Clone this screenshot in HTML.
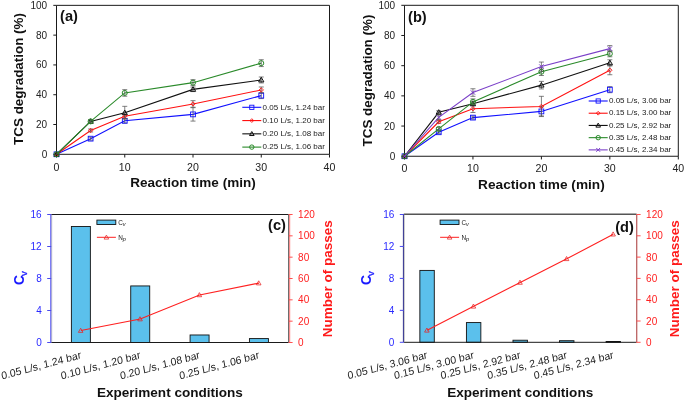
<!DOCTYPE html><html><head><meta charset="utf-8"><style>html,body{margin:0;padding:0;background:#fff;overflow:hidden}svg{display:block;will-change:transform}text{font-family:"Liberation Sans", sans-serif}</style></head><body>
<svg width="685" height="401" viewBox="0 0 685 401">
<rect width="685" height="401" fill="#fff"/>
<path d="M56.5 5.35H329.5V154.3H56.5Z" fill="none" stroke="#1a1a1a" stroke-width="1"/>
<line x1="53.3" y1="154.3" x2="56.5" y2="154.3" stroke="#1a1a1a" stroke-width="1"/>
<text x="47.2" y="157.85" text-anchor="end" font-size="10" fill="#222">0</text>
<line x1="53.3" y1="124.51" x2="56.5" y2="124.51" stroke="#1a1a1a" stroke-width="1"/>
<text x="47.2" y="128.06" text-anchor="end" font-size="10" fill="#222">20</text>
<line x1="53.3" y1="94.72" x2="56.5" y2="94.72" stroke="#1a1a1a" stroke-width="1"/>
<text x="47.2" y="98.27" text-anchor="end" font-size="10" fill="#222">40</text>
<line x1="53.3" y1="64.93" x2="56.5" y2="64.93" stroke="#1a1a1a" stroke-width="1"/>
<text x="47.2" y="68.48" text-anchor="end" font-size="10" fill="#222">60</text>
<line x1="53.3" y1="35.14" x2="56.5" y2="35.14" stroke="#1a1a1a" stroke-width="1"/>
<text x="47.2" y="38.69" text-anchor="end" font-size="10" fill="#222">80</text>
<line x1="53.3" y1="5.35" x2="56.5" y2="5.35" stroke="#1a1a1a" stroke-width="1"/>
<text x="47.2" y="8.9" text-anchor="end" font-size="10" fill="#222">100</text>
<line x1="56.5" y1="154.3" x2="56.5" y2="157.5" stroke="#1a1a1a" stroke-width="1"/>
<text x="56.5" y="170.5" text-anchor="middle" font-size="10.6" fill="#222">0</text>
<line x1="124.75" y1="154.3" x2="124.75" y2="157.5" stroke="#1a1a1a" stroke-width="1"/>
<text x="124.75" y="170.5" text-anchor="middle" font-size="10.6" fill="#222">10</text>
<line x1="193" y1="154.3" x2="193" y2="157.5" stroke="#1a1a1a" stroke-width="1"/>
<text x="193" y="170.5" text-anchor="middle" font-size="10.6" fill="#222">20</text>
<line x1="261.25" y1="154.3" x2="261.25" y2="157.5" stroke="#1a1a1a" stroke-width="1"/>
<text x="261.25" y="170.5" text-anchor="middle" font-size="10.6" fill="#222">30</text>
<line x1="329.5" y1="154.3" x2="329.5" y2="157.5" stroke="#1a1a1a" stroke-width="1"/>
<text x="329.5" y="170.5" text-anchor="middle" font-size="10.6" fill="#222">40</text>
<text x="193" y="187.2" text-anchor="middle" font-size="13.5" font-weight="bold" fill="#111">Reaction time (min)</text>
<text transform="translate(22.8 78.98) rotate(-90)" text-anchor="middle" font-size="13.42" font-weight="bold" fill="#111">TCS degradation (%)</text>
<text x="60.1" y="21.35" font-size="14.6" font-weight="bold" fill="#111">(a)</text>
<polyline points="56.5,154.3 90.62,138.66 124.75,120.79 193,114.38 261.25,95.61" fill="none" stroke="#1010ff" stroke-width="1.1"/>
<path d="M90.62 137.17V140.15M88.12 137.17H93.12M88.12 140.15H93.12" stroke="#555" stroke-width="0.75" fill="none"/>
<path d="M124.75 118.55V123.02M122.25 118.55H127.25M122.25 123.02H127.25" stroke="#555" stroke-width="0.75" fill="none"/>
<path d="M193 107.68V121.08M190.5 107.68H195.5M190.5 121.08H195.5" stroke="#555" stroke-width="0.75" fill="none"/>
<path d="M261.25 92.63V98.59M258.75 92.63H263.75M258.75 98.59H263.75" stroke="#555" stroke-width="0.75" fill="none"/>
<rect x="54.1" y="151.9" width="4.8" height="4.8" fill="none" stroke="#1010ff" stroke-width="0.9"/>
<rect x="88.22" y="136.26" width="4.8" height="4.8" fill="none" stroke="#1010ff" stroke-width="0.9"/>
<rect x="122.35" y="118.39" width="4.8" height="4.8" fill="none" stroke="#1010ff" stroke-width="0.9"/>
<rect x="190.6" y="111.98" width="4.8" height="4.8" fill="none" stroke="#1010ff" stroke-width="0.9"/>
<rect x="258.85" y="93.21" width="4.8" height="4.8" fill="none" stroke="#1010ff" stroke-width="0.9"/>
<polyline points="56.5,154.3 90.62,130.47 124.75,116.17 193,103.95 261.25,89.95" fill="none" stroke="#ff1010" stroke-width="1.1"/>
<path d="M90.62 128.98V131.96M88.12 128.98H93.12M88.12 131.96H93.12" stroke="#555" stroke-width="0.75" fill="none"/>
<path d="M124.75 113.93V118.4M122.25 113.93H127.25M122.25 118.4H127.25" stroke="#555" stroke-width="0.75" fill="none"/>
<path d="M193 100.68V107.23M190.5 100.68H195.5M190.5 107.23H195.5" stroke="#555" stroke-width="0.75" fill="none"/>
<path d="M261.25 86.97V92.93M258.75 86.97H263.75M258.75 92.93H263.75" stroke="#555" stroke-width="0.75" fill="none"/>
<path d="M56.5 152.14L58.66 154.3L56.5 156.46L54.34 154.3Z" fill="none" stroke="#ff1010" stroke-width="0.9"/>
<path d="M90.62 128.31L92.78 130.47L90.62 132.63L88.47 130.47Z" fill="none" stroke="#ff1010" stroke-width="0.9"/>
<path d="M124.75 114.01L126.91 116.17L124.75 118.33L122.59 116.17Z" fill="none" stroke="#ff1010" stroke-width="0.9"/>
<path d="M193 101.79L195.16 103.95L193 106.11L190.84 103.95Z" fill="none" stroke="#ff1010" stroke-width="0.9"/>
<path d="M261.25 87.79L263.41 89.95L261.25 92.11L259.09 89.95Z" fill="none" stroke="#ff1010" stroke-width="0.9"/>
<polyline points="56.5,154.3 90.62,121.38 124.75,112.74 193,89.36 261.25,79.97" fill="none" stroke="#111" stroke-width="1.1"/>
<path d="M90.62 119.89V122.87M88.12 119.89H93.12M88.12 122.87H93.12" stroke="#555" stroke-width="0.75" fill="none"/>
<path d="M124.75 106.34V119.15M122.25 106.34H127.25M122.25 119.15H127.25" stroke="#555" stroke-width="0.75" fill="none"/>
<path d="M193 87.12V91.59M190.5 87.12H195.5M190.5 91.59H195.5" stroke="#555" stroke-width="0.75" fill="none"/>
<path d="M261.25 76.99V82.95M258.75 76.99H263.75M258.75 82.95H263.75" stroke="#555" stroke-width="0.75" fill="none"/>
<path d="M56.5 151.66L59.14 156.22L53.86 156.22Z" fill="none" stroke="#111" stroke-width="1"/>
<path d="M90.62 118.74L93.27 123.3L87.98 123.3Z" fill="none" stroke="#111" stroke-width="1"/>
<path d="M124.75 110.1L127.39 114.66L122.11 114.66Z" fill="none" stroke="#111" stroke-width="1"/>
<path d="M193 86.72L195.64 91.28L190.36 91.28Z" fill="none" stroke="#111" stroke-width="1"/>
<path d="M261.25 77.33L263.89 81.89L258.61 81.89Z" fill="none" stroke="#111" stroke-width="1"/>
<polyline points="56.5,154.3 90.62,121.38 124.75,92.93 193,82.66 261.25,63.14" fill="none" stroke="#2a8a2a" stroke-width="1.1"/>
<path d="M90.62 119.89V122.87M88.12 119.89H93.12M88.12 122.87H93.12" stroke="#555" stroke-width="0.75" fill="none"/>
<path d="M124.75 89.66V96.21M122.25 89.66H127.25M122.25 96.21H127.25" stroke="#555" stroke-width="0.75" fill="none"/>
<path d="M193 79.68V85.63M190.5 79.68H195.5M190.5 85.63H195.5" stroke="#555" stroke-width="0.75" fill="none"/>
<path d="M261.25 59.72V66.57M258.75 59.72H263.75M258.75 66.57H263.75" stroke="#555" stroke-width="0.75" fill="none"/>
<circle cx="56.5" cy="154.3" r="2.52" fill="none" stroke="#2a8a2a" stroke-width="1"/>
<circle cx="90.62" cy="121.38" r="2.52" fill="none" stroke="#2a8a2a" stroke-width="1"/>
<circle cx="124.75" cy="92.93" r="2.52" fill="none" stroke="#2a8a2a" stroke-width="1"/>
<circle cx="193" cy="82.66" r="2.52" fill="none" stroke="#2a8a2a" stroke-width="1"/>
<circle cx="261.25" cy="63.14" r="2.52" fill="none" stroke="#2a8a2a" stroke-width="1"/>
<line x1="242.3" y1="107.3" x2="261.3" y2="107.3" stroke="#1010ff" stroke-width="1.1"/>
<rect x="249.7" y="105.2" width="4.2" height="4.2" fill="none" stroke="#1010ff" stroke-width="0.9"/>
<text x="262.6" y="109.55" font-size="8" fill="#222">0.05 L/s, 1.24 bar</text>
<line x1="242.3" y1="120.57" x2="261.3" y2="120.57" stroke="#ff1010" stroke-width="1.1"/>
<path d="M251.8 118.68L253.69 120.57L251.8 122.46L249.91 120.57Z" fill="none" stroke="#ff1010" stroke-width="0.9"/>
<text x="262.6" y="122.82" font-size="8" fill="#222">0.10 L/s, 1.20 bar</text>
<line x1="242.3" y1="133.84" x2="261.3" y2="133.84" stroke="#111" stroke-width="1.1"/>
<path d="M251.8 131.53L254.11 135.52L249.49 135.52Z" fill="none" stroke="#111" stroke-width="1"/>
<text x="262.6" y="136.09" font-size="8" fill="#222">0.20 L/s, 1.08 bar</text>
<line x1="242.3" y1="147.11" x2="261.3" y2="147.11" stroke="#2a8a2a" stroke-width="1.1"/>
<circle cx="251.8" cy="147.11" r="2.21" fill="none" stroke="#2a8a2a" stroke-width="1"/>
<text x="262.6" y="149.36" font-size="8" fill="#222">0.25 L/s, 1.06 bar</text>
<path d="M404.5 5.3H678.3V156.25H404.5Z" fill="none" stroke="#1a1a1a" stroke-width="1"/>
<line x1="401.3" y1="156.25" x2="404.5" y2="156.25" stroke="#1a1a1a" stroke-width="1"/>
<text x="395.2" y="159.8" text-anchor="end" font-size="10" fill="#222">0</text>
<line x1="401.3" y1="126.06" x2="404.5" y2="126.06" stroke="#1a1a1a" stroke-width="1"/>
<text x="395.2" y="129.61" text-anchor="end" font-size="10" fill="#222">20</text>
<line x1="401.3" y1="95.87" x2="404.5" y2="95.87" stroke="#1a1a1a" stroke-width="1"/>
<text x="395.2" y="99.42" text-anchor="end" font-size="10" fill="#222">40</text>
<line x1="401.3" y1="65.68" x2="404.5" y2="65.68" stroke="#1a1a1a" stroke-width="1"/>
<text x="395.2" y="69.23" text-anchor="end" font-size="10" fill="#222">60</text>
<line x1="401.3" y1="35.49" x2="404.5" y2="35.49" stroke="#1a1a1a" stroke-width="1"/>
<text x="395.2" y="39.04" text-anchor="end" font-size="10" fill="#222">80</text>
<line x1="401.3" y1="5.3" x2="404.5" y2="5.3" stroke="#1a1a1a" stroke-width="1"/>
<text x="395.2" y="8.85" text-anchor="end" font-size="10" fill="#222">100</text>
<line x1="404.5" y1="156.25" x2="404.5" y2="159.45" stroke="#1a1a1a" stroke-width="1"/>
<text x="404.5" y="172.45" text-anchor="middle" font-size="10.6" fill="#222">0</text>
<line x1="472.95" y1="156.25" x2="472.95" y2="159.45" stroke="#1a1a1a" stroke-width="1"/>
<text x="472.95" y="172.45" text-anchor="middle" font-size="10.6" fill="#222">10</text>
<line x1="541.4" y1="156.25" x2="541.4" y2="159.45" stroke="#1a1a1a" stroke-width="1"/>
<text x="541.4" y="172.45" text-anchor="middle" font-size="10.6" fill="#222">20</text>
<line x1="609.85" y1="156.25" x2="609.85" y2="159.45" stroke="#1a1a1a" stroke-width="1"/>
<text x="609.85" y="172.45" text-anchor="middle" font-size="10.6" fill="#222">30</text>
<line x1="678.3" y1="156.25" x2="678.3" y2="159.45" stroke="#1a1a1a" stroke-width="1"/>
<text x="678.3" y="172.45" text-anchor="middle" font-size="10.6" fill="#222">40</text>
<text x="541.4" y="188.6" text-anchor="middle" font-size="13.65" font-weight="bold" fill="#111">Reaction time (min)</text>
<text transform="translate(371.7 80.53) rotate(-90)" text-anchor="middle" font-size="13.42" font-weight="bold" fill="#111">TCS degradation (%)</text>
<text x="408.1" y="22.3" font-size="14.6" font-weight="bold" fill="#111">(b)</text>
<polyline points="404.5,156.25 438.73,132.25 472.95,117.61 541.4,111.42 609.85,89.68" fill="none" stroke="#1010ff" stroke-width="1.1"/>
<path d="M438.73 130.74V133.76M436.23 130.74H441.23M436.23 133.76H441.23" stroke="#555" stroke-width="0.75" fill="none"/>
<path d="M472.95 116.1V119.12M470.45 116.1H475.45M470.45 119.12H475.45" stroke="#555" stroke-width="0.75" fill="none"/>
<path d="M541.4 106.89V115.95M538.9 106.89H543.9M538.9 115.95H543.9" stroke="#555" stroke-width="0.75" fill="none"/>
<path d="M609.85 86.66V92.7M607.35 86.66H612.35M607.35 92.7H612.35" stroke="#555" stroke-width="0.75" fill="none"/>
<rect x="402.1" y="153.85" width="4.8" height="4.8" fill="none" stroke="#1010ff" stroke-width="0.9"/>
<rect x="436.33" y="129.85" width="4.8" height="4.8" fill="none" stroke="#1010ff" stroke-width="0.9"/>
<rect x="470.55" y="115.21" width="4.8" height="4.8" fill="none" stroke="#1010ff" stroke-width="0.9"/>
<rect x="539" y="109.02" width="4.8" height="4.8" fill="none" stroke="#1010ff" stroke-width="0.9"/>
<rect x="607.45" y="87.28" width="4.8" height="4.8" fill="none" stroke="#1010ff" stroke-width="0.9"/>
<polyline points="404.5,156.25 438.73,121.83 472.95,108.7 541.4,106.44 609.85,70.21" fill="none" stroke="#ff1010" stroke-width="1.1"/>
<path d="M438.73 120.32V123.34M436.23 120.32H441.23M436.23 123.34H441.23" stroke="#555" stroke-width="0.75" fill="none"/>
<path d="M472.95 104.93V112.47M470.45 104.93H475.45M470.45 112.47H475.45" stroke="#555" stroke-width="0.75" fill="none"/>
<path d="M541.4 96.32V116.55M538.9 96.32H543.9M538.9 116.55H543.9" stroke="#555" stroke-width="0.75" fill="none"/>
<path d="M609.85 65.68V74.74M607.35 65.68H612.35M607.35 74.74H612.35" stroke="#555" stroke-width="0.75" fill="none"/>
<path d="M404.5 154.09L406.66 156.25L404.5 158.41L402.34 156.25Z" fill="none" stroke="#ff1010" stroke-width="0.9"/>
<path d="M438.73 119.67L440.89 121.83L438.73 123.99L436.56 121.83Z" fill="none" stroke="#ff1010" stroke-width="0.9"/>
<path d="M472.95 106.54L475.11 108.7L472.95 110.86L470.79 108.7Z" fill="none" stroke="#ff1010" stroke-width="0.9"/>
<path d="M541.4 104.28L543.56 106.44L541.4 108.6L539.24 106.44Z" fill="none" stroke="#ff1010" stroke-width="0.9"/>
<path d="M609.85 68.05L612.01 70.21L609.85 72.37L607.69 70.21Z" fill="none" stroke="#ff1010" stroke-width="0.9"/>
<polyline points="404.5,156.25 438.73,112.32 472.95,103.72 541.4,85.15 609.85,62.81" fill="none" stroke="#111" stroke-width="1.1"/>
<path d="M438.73 110.81V113.83M436.23 110.81H441.23M436.23 113.83H441.23" stroke="#555" stroke-width="0.75" fill="none"/>
<path d="M472.95 101.46V105.98M470.45 101.46H475.45M470.45 105.98H475.45" stroke="#555" stroke-width="0.75" fill="none"/>
<path d="M541.4 81.38V88.93M538.9 81.38H543.9M538.9 88.93H543.9" stroke="#555" stroke-width="0.75" fill="none"/>
<path d="M609.85 59.79V65.83M607.35 59.79H612.35M607.35 65.83H612.35" stroke="#555" stroke-width="0.75" fill="none"/>
<path d="M404.5 153.61L407.14 158.17L401.86 158.17Z" fill="none" stroke="#111" stroke-width="1"/>
<path d="M438.73 109.68L441.37 114.24L436.09 114.24Z" fill="none" stroke="#111" stroke-width="1"/>
<path d="M472.95 101.08L475.59 105.64L470.31 105.64Z" fill="none" stroke="#111" stroke-width="1"/>
<path d="M541.4 82.51L544.04 87.07L538.76 87.07Z" fill="none" stroke="#111" stroke-width="1"/>
<path d="M609.85 60.17L612.49 64.73L607.21 64.73Z" fill="none" stroke="#111" stroke-width="1"/>
<polyline points="404.5,156.25 438.73,128.93 472.95,101.91 541.4,71.72 609.85,53.75" fill="none" stroke="#2a8a2a" stroke-width="1.1"/>
<path d="M438.73 127.42V130.44M436.23 127.42H441.23M436.23 130.44H441.23" stroke="#555" stroke-width="0.75" fill="none"/>
<path d="M472.95 98.89V104.93M470.45 98.89H475.45M470.45 104.93H475.45" stroke="#555" stroke-width="0.75" fill="none"/>
<path d="M541.4 67.94V75.49M538.9 67.94H543.9M538.9 75.49H543.9" stroke="#555" stroke-width="0.75" fill="none"/>
<path d="M609.85 50.74V56.77M607.35 50.74H612.35M607.35 56.77H612.35" stroke="#555" stroke-width="0.75" fill="none"/>
<circle cx="404.5" cy="156.25" r="2.52" fill="none" stroke="#2a8a2a" stroke-width="1"/>
<circle cx="438.73" cy="128.93" r="2.52" fill="none" stroke="#2a8a2a" stroke-width="1"/>
<circle cx="472.95" cy="101.91" r="2.52" fill="none" stroke="#2a8a2a" stroke-width="1"/>
<circle cx="541.4" cy="71.72" r="2.52" fill="none" stroke="#2a8a2a" stroke-width="1"/>
<circle cx="609.85" cy="53.75" r="2.52" fill="none" stroke="#2a8a2a" stroke-width="1"/>
<polyline points="404.5,156.25 438.73,117.3 472.95,92.55 541.4,66.59 609.85,48.62" fill="none" stroke="#7a3fc8" stroke-width="1.1"/>
<path d="M438.73 115.04V119.57M436.23 115.04H441.23M436.23 119.57H441.23" stroke="#555" stroke-width="0.75" fill="none"/>
<path d="M472.95 88.78V96.32M470.45 88.78H475.45M470.45 96.32H475.45" stroke="#555" stroke-width="0.75" fill="none"/>
<path d="M541.4 62.06V71.11M538.9 62.06H543.9M538.9 71.11H543.9" stroke="#555" stroke-width="0.75" fill="none"/>
<path d="M609.85 45.6V51.64M607.35 45.6H612.35M607.35 51.64H612.35" stroke="#555" stroke-width="0.75" fill="none"/>
<path d="M402.34 154.09L406.66 158.41M406.66 154.09L402.34 158.41" stroke="#7a3fc8" stroke-width="1"/>
<path d="M436.56 115.14L440.89 119.46M440.89 115.14L436.56 119.46" stroke="#7a3fc8" stroke-width="1"/>
<path d="M470.79 90.39L475.11 94.71M475.11 90.39L470.79 94.71" stroke="#7a3fc8" stroke-width="1"/>
<path d="M539.24 64.43L543.56 68.75M543.56 64.43L539.24 68.75" stroke="#7a3fc8" stroke-width="1"/>
<path d="M607.69 46.46L612.01 50.78M612.01 46.46L607.69 50.78" stroke="#7a3fc8" stroke-width="1"/>
<line x1="588.7" y1="101" x2="607.7" y2="101" stroke="#1010ff" stroke-width="1.1"/>
<rect x="596.1" y="98.9" width="4.2" height="4.2" fill="none" stroke="#1010ff" stroke-width="0.9"/>
<text x="609" y="103.25" font-size="8" fill="#222">0.05 L/s, 3.06 bar</text>
<line x1="588.7" y1="113.22" x2="607.7" y2="113.22" stroke="#ff1010" stroke-width="1.1"/>
<path d="M598.2 111.33L600.09 113.22L598.2 115.11L596.31 113.22Z" fill="none" stroke="#ff1010" stroke-width="0.9"/>
<text x="609" y="115.47" font-size="8" fill="#222">0.15 L/s, 3.00 bar</text>
<line x1="588.7" y1="125.44" x2="607.7" y2="125.44" stroke="#111" stroke-width="1.1"/>
<path d="M598.2 123.13L600.51 127.12L595.89 127.12Z" fill="none" stroke="#111" stroke-width="1"/>
<text x="609" y="127.69" font-size="8" fill="#222">0.25 L/s, 2.92 bar</text>
<line x1="588.7" y1="137.66" x2="607.7" y2="137.66" stroke="#2a8a2a" stroke-width="1.1"/>
<circle cx="598.2" cy="137.66" r="2.21" fill="none" stroke="#2a8a2a" stroke-width="1"/>
<text x="609" y="139.91" font-size="8" fill="#222">0.35 L/s, 2.48 bar</text>
<line x1="588.7" y1="149.88" x2="607.7" y2="149.88" stroke="#7a3fc8" stroke-width="1.1"/>
<path d="M596.31 147.99L600.09 151.77M600.09 147.99L596.31 151.77" stroke="#7a3fc8" stroke-width="1"/>
<text x="609" y="152.13" font-size="8" fill="#222">0.45 L/s, 2.34 bar</text>
<rect x="71.38" y="226.5" width="18.99" height="116" fill="#5bc0ec" stroke="#111" stroke-width="0.9"/>
<rect x="130.73" y="285.94" width="18.99" height="56.56" fill="#5bc0ec" stroke="#111" stroke-width="0.9"/>
<rect x="190.08" y="334.98" width="18.99" height="7.52" fill="#5bc0ec" stroke="#111" stroke-width="0.9"/>
<rect x="249.43" y="338.58" width="18.99" height="3.92" fill="#5bc0ec" stroke="#111" stroke-width="0.9"/>
<path d="M51.2 214.5H288.6" fill="none" stroke="#1a1a1a" stroke-width="1"/>
<path d="M51.2 342.5H288.6" fill="none" stroke="#1a1a1a" stroke-width="1"/>
<path d="M288.6 214.5V342.5" fill="none" stroke="#333" stroke-width="0.8"/>
<path d="M51.7 214.5V342.5" fill="none" stroke="#999" stroke-width="0.6"/>
<line x1="50.75" y1="214" x2="50.75" y2="342.5" stroke="#5252f2" stroke-width="1"/>
<line x1="47.2" y1="342.5" x2="51.2" y2="342.5" stroke="#4a4aee" stroke-width="1"/>
<text x="41.7" y="346" text-anchor="end" font-size="10" fill="#2a2aff">0</text>
<line x1="47.2" y1="310.5" x2="51.2" y2="310.5" stroke="#4a4aee" stroke-width="1"/>
<text x="41.7" y="314" text-anchor="end" font-size="10" fill="#2a2aff">4</text>
<line x1="47.2" y1="278.5" x2="51.2" y2="278.5" stroke="#4a4aee" stroke-width="1"/>
<text x="41.7" y="282" text-anchor="end" font-size="10" fill="#2a2aff">8</text>
<line x1="47.2" y1="246.5" x2="51.2" y2="246.5" stroke="#4a4aee" stroke-width="1"/>
<text x="41.7" y="250" text-anchor="end" font-size="10" fill="#2a2aff">12</text>
<line x1="47.2" y1="214.5" x2="51.2" y2="214.5" stroke="#4a4aee" stroke-width="1"/>
<text x="41.7" y="218" text-anchor="end" font-size="10" fill="#2a2aff">16</text>
<line x1="289.7" y1="214" x2="289.7" y2="343" stroke="#ff7a7a" stroke-width="1"/>
<line x1="288.6" y1="342.5" x2="292.6" y2="342.5" stroke="#ff5050" stroke-width="1"/>
<text x="298.1" y="346" font-size="10" fill="#ff2020">0</text>
<line x1="288.6" y1="321.17" x2="292.6" y2="321.17" stroke="#ff5050" stroke-width="1"/>
<text x="298.1" y="324.67" font-size="10" fill="#ff2020">20</text>
<line x1="288.6" y1="299.83" x2="292.6" y2="299.83" stroke="#ff5050" stroke-width="1"/>
<text x="298.1" y="303.33" font-size="10" fill="#ff2020">40</text>
<line x1="288.6" y1="278.5" x2="292.6" y2="278.5" stroke="#ff5050" stroke-width="1"/>
<text x="298.1" y="282" font-size="10" fill="#ff2020">60</text>
<line x1="288.6" y1="257.17" x2="292.6" y2="257.17" stroke="#ff5050" stroke-width="1"/>
<text x="298.1" y="260.67" font-size="10" fill="#ff2020">80</text>
<line x1="288.6" y1="235.83" x2="292.6" y2="235.83" stroke="#ff5050" stroke-width="1"/>
<text x="298.1" y="239.33" font-size="10" fill="#ff2020">100</text>
<line x1="288.6" y1="214.5" x2="292.6" y2="214.5" stroke="#ff5050" stroke-width="1"/>
<text x="298.1" y="218" font-size="10" fill="#ff2020">120</text>
<polyline points="80.88,330.55 140.23,319.03 199.58,294.93 258.93,283.09" fill="none" stroke="#ff2020" stroke-width="1.1"/>
<path d="M80.67 328.25L82.97 332.35L78.38 332.35Z" fill="none" stroke="#e82020" stroke-width="0.75"/>
<path d="M140.03 316.73L142.33 320.83L137.73 320.83Z" fill="none" stroke="#e82020" stroke-width="0.75"/>
<path d="M199.38 292.63L201.68 296.73L197.08 296.73Z" fill="none" stroke="#e82020" stroke-width="0.75"/>
<path d="M258.73 280.79L261.03 284.89L256.43 284.89Z" fill="none" stroke="#e82020" stroke-width="0.75"/>
<text transform="matrix(0.9659 -0.2588 0.1736 0.9848 81.58 358.2)" text-anchor="end" font-size="10.6" fill="#222">0.05 L/s, 1.24 bar</text>
<text transform="matrix(0.9659 -0.2588 0.1736 0.9848 140.93 358.2)" text-anchor="end" font-size="10.6" fill="#222">0.10 L/s, 1.20 bar</text>
<text transform="matrix(0.9659 -0.2588 0.1736 0.9848 200.28 358.2)" text-anchor="end" font-size="10.6" fill="#222">0.20 L/s, 1.08 bar</text>
<text transform="matrix(0.9659 -0.2588 0.1736 0.9848 259.62 358.2)" text-anchor="end" font-size="10.6" fill="#222">0.25 L/s, 1.06 bar</text>
<text x="169.9" y="396.5" text-anchor="middle" font-size="13.55" font-weight="bold" fill="#111">Experiment conditions</text>
<text transform="translate(24.4 280) rotate(-90)" text-anchor="middle" font-size="13.8" font-weight="bold" fill="#1a1aff">C</text>
<text transform="translate(27.1 273.6) rotate(-90)" text-anchor="middle" font-size="9.5" fill="#1a1aff" stroke="#1a1aff" stroke-width="0.25">v</text>
<text transform="translate(331.5 278.8) rotate(-90)" text-anchor="middle" font-size="13.5" font-weight="bold" fill="#ff1a1a">Number of passes</text>
<rect x="96.9" y="220.1" width="18.9" height="4.4" fill="#5bc0ec" stroke="#111" stroke-width="0.9"/>
<text x="118.2" y="224.8" font-size="6.4" fill="#1a1a1a">C<tspan font-size="5.6" font-style="italic" dy="1.1">v</tspan></text>
<line x1="96.9" y1="237.3" x2="115.9" y2="237.3" stroke="#ff2020" stroke-width="1"/>
<path d="M106.4 235.1L108.7 239.1L104.1 239.1Z" fill="none" stroke="#e02020" stroke-width="0.7"/>
<text x="118.2" y="239.6" font-size="6.4" fill="#1a1a1a">N<tspan font-size="5.6" font-style="italic" dy="1.3">p</tspan></text>
<text x="285.9" y="230.1" text-anchor="end" font-size="14.6" font-weight="bold" fill="#111">(c)</text>
<rect x="419.86" y="270.41" width="14.43" height="71.89" fill="#5bc0ec" stroke="#111" stroke-width="0.9"/>
<rect x="466.42" y="322.57" width="14.43" height="19.73" fill="#5bc0ec" stroke="#111" stroke-width="0.9"/>
<rect x="512.98" y="340.22" width="14.43" height="2.08" fill="#5bc0ec" stroke="#111" stroke-width="0.9"/>
<rect x="559.54" y="340.7" width="14.43" height="1.6" fill="#5bc0ec" stroke="#111" stroke-width="0.9"/>
<rect x="606.1" y="341.5" width="14.43" height="0.8" fill="#5bc0ec" stroke="#111" stroke-width="0.9"/>
<path d="M403.8 214.3H636.6" fill="none" stroke="#555" stroke-width="1.4"/>
<path d="M403.8 342.3H636.6" fill="none" stroke="#1a1a1a" stroke-width="1"/>
<path d="M636.6 214.5V342.3" fill="none" stroke="#333" stroke-width="0.8"/>
<path d="M404.3 214.5V342.3" fill="none" stroke="#999" stroke-width="0.6"/>
<line x1="403.4" y1="214" x2="403.4" y2="342.3" stroke="#2c2c8c" stroke-width="1"/>
<line x1="399.8" y1="342.3" x2="403.8" y2="342.3" stroke="#4a4aee" stroke-width="1"/>
<text x="394.3" y="345.8" text-anchor="end" font-size="10" fill="#2a2aff">0</text>
<line x1="399.8" y1="310.35" x2="403.8" y2="310.35" stroke="#4a4aee" stroke-width="1"/>
<text x="394.3" y="313.85" text-anchor="end" font-size="10" fill="#2a2aff">4</text>
<line x1="399.8" y1="278.4" x2="403.8" y2="278.4" stroke="#4a4aee" stroke-width="1"/>
<text x="394.3" y="281.9" text-anchor="end" font-size="10" fill="#2a2aff">8</text>
<line x1="399.8" y1="246.45" x2="403.8" y2="246.45" stroke="#4a4aee" stroke-width="1"/>
<text x="394.3" y="249.95" text-anchor="end" font-size="10" fill="#2a2aff">12</text>
<line x1="399.8" y1="214.5" x2="403.8" y2="214.5" stroke="#4a4aee" stroke-width="1"/>
<text x="394.3" y="218" text-anchor="end" font-size="10" fill="#2a2aff">16</text>
<line x1="636.8" y1="214" x2="636.8" y2="342.8" stroke="#e06a6a" stroke-width="1"/>
<line x1="636.6" y1="342.3" x2="640.6" y2="342.3" stroke="#ff5050" stroke-width="1"/>
<text x="646.1" y="345.8" font-size="10" fill="#ff2020">0</text>
<line x1="636.6" y1="321" x2="640.6" y2="321" stroke="#ff5050" stroke-width="1"/>
<text x="646.1" y="324.5" font-size="10" fill="#ff2020">20</text>
<line x1="636.6" y1="299.7" x2="640.6" y2="299.7" stroke="#ff5050" stroke-width="1"/>
<text x="646.1" y="303.2" font-size="10" fill="#ff2020">40</text>
<line x1="636.6" y1="278.4" x2="640.6" y2="278.4" stroke="#ff5050" stroke-width="1"/>
<text x="646.1" y="281.9" font-size="10" fill="#ff2020">60</text>
<line x1="636.6" y1="257.1" x2="640.6" y2="257.1" stroke="#ff5050" stroke-width="1"/>
<text x="646.1" y="260.6" font-size="10" fill="#ff2020">80</text>
<line x1="636.6" y1="235.8" x2="640.6" y2="235.8" stroke="#ff5050" stroke-width="1"/>
<text x="646.1" y="239.3" font-size="10" fill="#ff2020">100</text>
<line x1="636.6" y1="214.5" x2="640.6" y2="214.5" stroke="#ff5050" stroke-width="1"/>
<text x="646.1" y="218" font-size="10" fill="#ff2020">120</text>
<polyline points="427.08,330.32 473.64,306.3 520.2,282.45 566.76,258.8 613.32,234.2" fill="none" stroke="#ff2020" stroke-width="1.1"/>
<path d="M426.88 328.02L429.18 332.12L424.58 332.12Z" fill="none" stroke="#e82020" stroke-width="0.75"/>
<path d="M473.44 304L475.74 308.1L471.14 308.1Z" fill="none" stroke="#e82020" stroke-width="0.75"/>
<path d="M520 280.15L522.3 284.25L517.7 284.25Z" fill="none" stroke="#e82020" stroke-width="0.75"/>
<path d="M566.56 256.5L568.86 260.6L564.26 260.6Z" fill="none" stroke="#e82020" stroke-width="0.75"/>
<path d="M613.12 231.9L615.42 236L610.82 236Z" fill="none" stroke="#e82020" stroke-width="0.75"/>
<text transform="matrix(0.9659 -0.2588 0.1736 0.9848 427.78 358)" text-anchor="end" font-size="10.6" fill="#222">0.05 L/s, 3.06 bar</text>
<text transform="matrix(0.9659 -0.2588 0.1736 0.9848 474.34 358)" text-anchor="end" font-size="10.6" fill="#222">0.15 L/s, 3.00 bar</text>
<text transform="matrix(0.9659 -0.2588 0.1736 0.9848 520.9 358)" text-anchor="end" font-size="10.6" fill="#222">0.25 L/s, 2.92 bar</text>
<text transform="matrix(0.9659 -0.2588 0.1736 0.9848 567.46 358)" text-anchor="end" font-size="10.6" fill="#222">0.35 L/s, 2.48 bar</text>
<text transform="matrix(0.9659 -0.2588 0.1736 0.9848 614.02 358)" text-anchor="end" font-size="10.6" fill="#222">0.45 L/s, 2.34 bar</text>
<text x="520.2" y="396.5" text-anchor="middle" font-size="13.55" font-weight="bold" fill="#111">Experiment conditions</text>
<text transform="translate(371 279.9) rotate(-90)" text-anchor="middle" font-size="13.8" font-weight="bold" fill="#1a1aff">C</text>
<text transform="translate(373.7 273.5) rotate(-90)" text-anchor="middle" font-size="9.5" fill="#1a1aff" stroke="#1a1aff" stroke-width="0.25">v</text>
<text transform="translate(678.7 278.7) rotate(-90)" text-anchor="middle" font-size="13.5" font-weight="bold" fill="#ff1a1a">Number of passes</text>
<rect x="440.1" y="220.1" width="18.9" height="4.4" fill="#5bc0ec" stroke="#111" stroke-width="0.9"/>
<text x="461.4" y="224.8" font-size="6.4" fill="#1a1a1a">C<tspan font-size="5.6" font-style="italic" dy="1.1">v</tspan></text>
<line x1="440.1" y1="237.3" x2="459.1" y2="237.3" stroke="#ff2020" stroke-width="1"/>
<path d="M449.6 235.1L451.9 239.1L447.3 239.1Z" fill="none" stroke="#e02020" stroke-width="0.7"/>
<text x="461.4" y="239.6" font-size="6.4" fill="#1a1a1a">N<tspan font-size="5.6" font-style="italic" dy="1.3">p</tspan></text>
<text x="633.9" y="231.8" text-anchor="end" font-size="14.6" font-weight="bold" fill="#111">(d)</text>
</svg></body></html>
